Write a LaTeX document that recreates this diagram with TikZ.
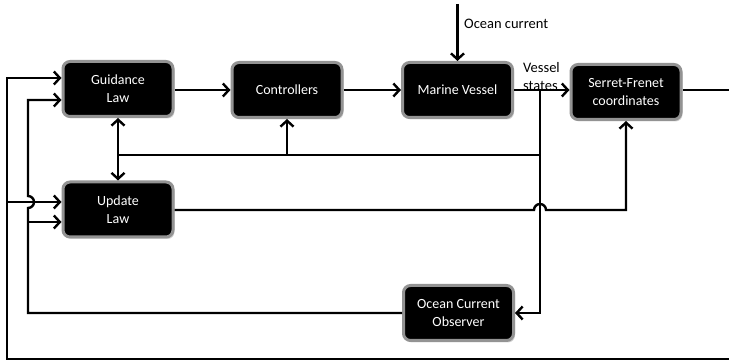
\documentclass[tikz,border=0pt]{standalone}
\usepackage{fontspec}
\setmainfont{Carlito}
\usetikzlibrary{arrows.meta,shadows}
\tikzset{
    block/.style={draw=gray!85,line width=3pt,fill=black,text=white,rounded corners=7pt,
        minimum width=110pt,minimum height=55pt,align=center,font=\fontsize{14}{18}\selectfont,
        drop shadow={opacity=0.35,shadow xshift=1.5pt,shadow yshift=-2pt}},
    wire/.style={line width=2.4pt},
    tip/.style={Straight Barb[length=6pt,width=13pt,line width=2.4pt]},
    arr/.style={wire,-{Straight Barb[length=6pt,width=13pt,line width=2.4pt]}},
    darr/.style={wire,{Straight Barb[length=6pt,width=13pt,line width=2.4pt]}-{Straight Barb[length=6pt,width=13pt,line width=2.4pt]}},
    lbl/.style={font=\fontsize{14.5}{18}\selectfont,inner sep=0pt}
}
\begin{document}
\begin{tikzpicture}[x=1pt,y=-1pt]
\useasboundingbox (0,0) rectangle (729,363);
\clip (0,0) rectangle (729,363);
%blocks
\node[block] (guid) at (118,89) {Guidance\\Law};
\node[block] (ctrl) at (287,90) {Controllers};
\node[block] (vessel) at (457.5,90) {Marine Vessel};
\node[block] (sf) at (626,92) {Serret-Frenet\\coordinates};
\node[block] (upd) at (118,209.5) {Update\\Law};
\node[block] (obs) at (458.5,313) {Ocean Current\\Observer};
%labels
\coordinate (oc) at (457.5,4);
\node[lbl,anchor=west] (octxt) at (464,24) {Ocean current};
\node[lbl,anchor=west,align=left] (vstxt) at (523,77) {Vessel\\states};
%forward path
\draw[arr] (oc) -- (vessel.north);
\draw[arr] (guid.east |- 0,90) -- (ctrl.west);
\draw[arr] (ctrl.east) -- (vessel.west);
\draw[arr] (vessel.east) -- (sf.west |- 0,90);
%vessel states feedback
\coordinate (br) at (540,90);
\coordinate (fb) at (540,155);
\draw[arr] (br) |- (obs.east);
\draw[wire] (fb) -- (118,155);
\draw[arr] (ctrl.south |- fb) -- (ctrl.south);
\draw[darr] (guid.south) -- (upd.north);
%update law output
\draw[arr] (upd.east |- 0,210) -- (534,210) arc (180:360:6) -- (sf.south |- 0,210) -- (sf.south);
%outer loop
\draw[arr] (sf.east |- 0,90) -- (745,90) -- (745,359) -- (7,359) -- (7,78) -- (guid.west |- 0,78);
\draw[arr] (7,202) -- (upd.west |- 0,202);
%observer loop
\draw[arr] (obs.west) -- (28,313) -- (28,208) arc (90:-90:6) -- (28,100) -- (guid.west |- 0,100);
\draw[arr] (28,222) -- (upd.west |- 0,222);
\end{tikzpicture}
\end{document}
